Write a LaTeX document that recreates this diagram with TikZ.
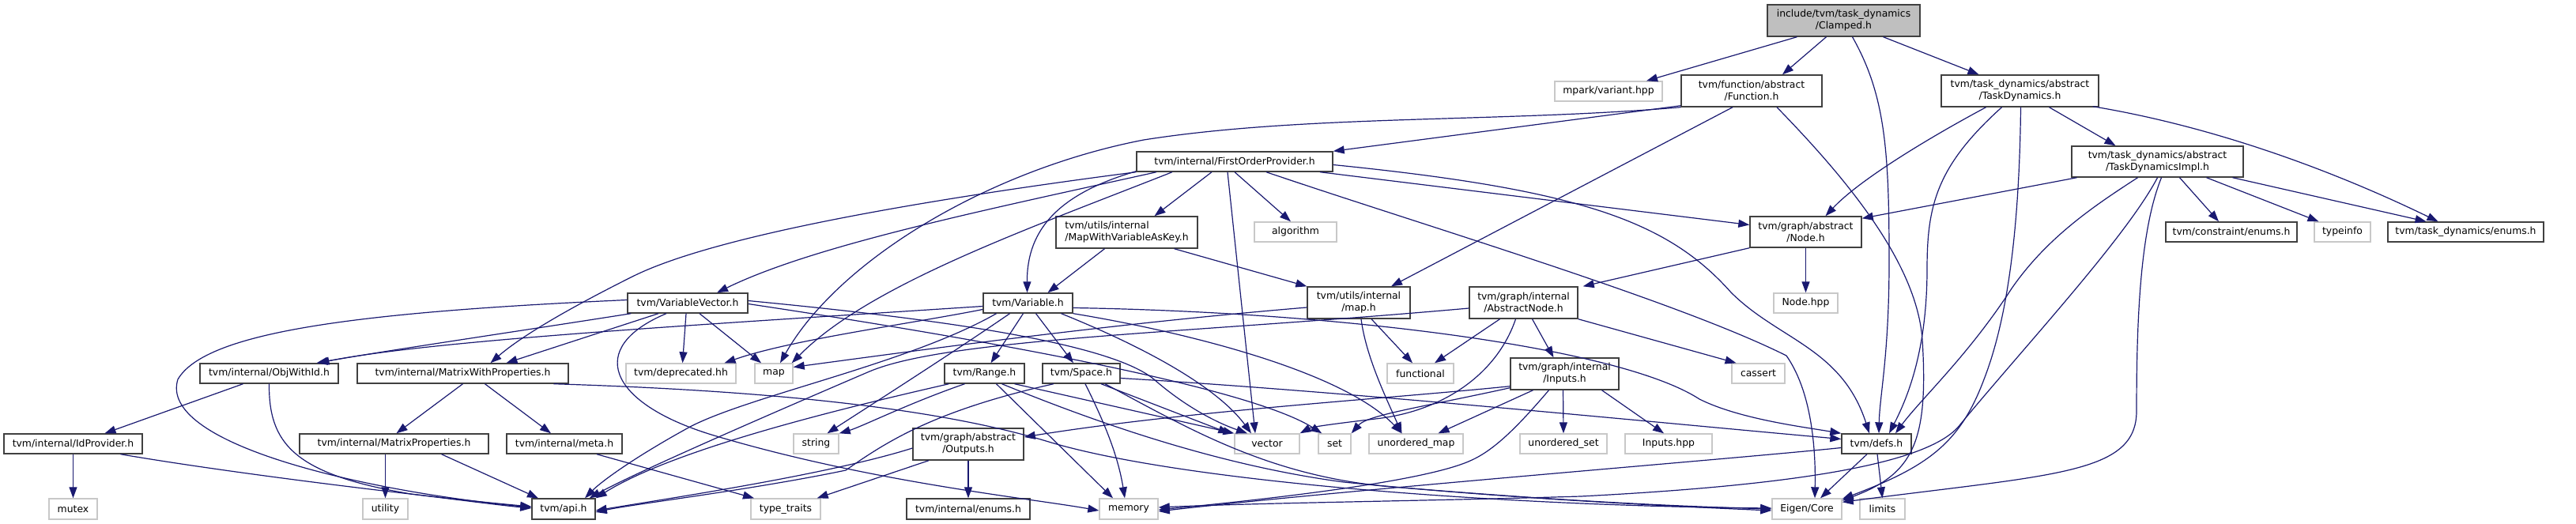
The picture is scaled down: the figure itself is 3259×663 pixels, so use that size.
\documentclass[tikz,border=0pt]{standalone}
\usepackage{fontspec}
\setmainfont{DejaVu Sans}
\usetikzlibrary{arrows.meta}
\definecolor{edgec}{HTML}{191970}
\definecolor{boxc}{HTML}{404040}
\definecolor{sysc}{HTML}{C8C8C8}
\definecolor{rootfill}{HTML}{BFBFBF}
\tikzset{
 hdr/.style={draw=boxc, line width=1.4pt, fill=white, inner sep=0pt, font=\fontsize{12.4}{15}\selectfont, align=center, minimum height=25pt},
 two/.style={minimum height=40pt},
 sys/.style={hdr, draw=sysc},
 root/.style={hdr, two, fill=rootfill},
 e/.style={draw=edgec, line width=1.2pt, -{Triangle[length=14pt,width=10pt]}},
}
\begin{document}
\begin{tikzpicture}[x=1pt,y=-1pt]
\useasboundingbox (0,0) rectangle (3259,663);
% row 0
\node[root, minimum width=193pt] (clamped) at (2332.5,26) {include/tvm/task\_dynamics\\/Clamped.h};
% row 1
\node[sys, minimum width=136pt] (variant) at (2035,115.5) {mpark/variant.hpp};
\node[hdr, two, minimum width=178pt] (function) at (2216,115) {tvm/function/abstract\\/Function.h};
\node[hdr, two, minimum width=199pt] (taskdyn) at (2555.5,115) {tvm/task\_dynamics/abstract\\/TaskDynamics.h};
% row 2
\node[hdr, minimum width=248pt] (fop) at (1562,204.5) {tvm/internal/FirstOrderProvider.h};
\node[hdr, two, minimum width=217pt, minimum height=39pt] (tdimpl) at (2729.5,204.5) {tvm/task\_dynamics/abstract\\/TaskDynamicsImpl.h};
% row 3
\node[hdr, two, minimum width=179pt, align=left] (mwvak) at (1425.5,294) {tvm/utils/internal\\/MapWithVariableAsKey.h};
\node[sys, minimum width=104pt] (algorithm) at (1639,293.5) {algorithm};
\node[hdr, two, minimum width=141pt, minimum height=39pt] (nodeh) at (2284.5,293.5) {tvm/graph/abstract\\/Node.h};
\node[hdr, minimum width=166pt] (cenums) at (2823,293.5) {tvm/constraint/enums.h};
\node[sys, minimum width=71pt] (typeinfo) at (2963.5,293.5) {typeinfo};
\node[hdr, minimum width=197pt] (tdenums) at (3119.5,293.5) {tvm/task\_dynamics/enums.h};
% row 4
\node[hdr, minimum width=152pt] (vv) at (870,383.5) {tvm/VariableVector.h};
\node[hdr, minimum width=113pt] (variable) at (1300.5,383.5) {tvm/Variable.h};
\node[hdr, two, minimum width=130pt] (utilsmap) at (1719,383) {tvm/utils/internal\\/map.h};
\node[hdr, two, minimum width=137pt] (absnode) at (1927.5,383) {tvm/graph/internal\\/AbstractNode.h};
\node[sys, minimum width=81pt] (nodehpp) at (2284.5,383.5) {Node.hpp};
% row 5
\node[hdr, minimum width=175pt] (objwithid) at (340.5,472.5) {tvm/internal/ObjWithId.h};
\node[hdr, minimum width=267pt] (mwp) at (585.5,472.5) {tvm/internal/MatrixWithProperties.h};
\node[sys, minimum width=139pt] (deprecated) at (861.5,472.5) {tvm/deprecated.hh};
\node[sys, minimum width=48pt] (map) at (979,472.5) {map};
\node[hdr, minimum width=101pt] (range) at (1245.5,472.5) {tvm/Range.h};
\node[hdr, minimum width=98pt] (space) at (1368,472.5) {tvm/Space.h};
\node[sys, minimum width=84pt] (functional) at (1797,472.5) {functional};
\node[hdr, two, minimum width=137pt] (inputs) at (1979.5,473) {tvm/graph/internal\\/Inputs.h};
\node[sys, minimum width=67pt] (cassert) at (2224.5,472.5) {cassert};
% row 6
\node[hdr, minimum width=175pt] (idprovider) at (92.5,561.5) {tvm/internal/IdProvider.h};
\node[hdr, minimum width=239pt] (mprops) at (498.5,561.5) {tvm/internal/MatrixProperties.h};
\node[hdr, minimum width=146pt] (meta) at (714,561.5) {tvm/internal/meta.h};
\node[sys, minimum width=57pt] (string) at (1032.5,561.5) {string};
\node[hdr, two, minimum width=140pt] (outputs) at (1225,562) {tvm/graph/abstract\\/Outputs.h};
\node[sys, minimum width=82pt] (vector) at (1603,561.5) {vector};
\node[sys, minimum width=41pt] (set) at (1688.5,561.5) {set};
\node[sys, minimum width=119pt] (umap) at (1791.5,561.5) {unordered\_map};
\node[sys, minimum width=110pt] (uset) at (1978,561.5) {unordered\_set};
\node[sys, minimum width=110pt] (inputshpp) at (2111,561.5) {Inputs.hpp};
\node[hdr, minimum width=88pt] (defs) at (2374,561.5) {tvm/defs.h};
% row 7
\node[sys, minimum width=61pt, minimum height=26pt] (mutex) at (92.5,644) {mutex};
\node[sys, minimum width=57pt, minimum height=26pt] (utility) at (487.5,644) {utility};
\node[hdr, minimum width=80pt, minimum height=26pt] (api) at (713,644) {tvm/api.h};
\node[sys, minimum width=88pt, minimum height=26pt] (typetraits) at (994,644) {type\_traits};
\node[hdr, minimum width=156pt, minimum height=26pt] (ienums) at (1225,644) {tvm/internal/enums.h};
\node[sys, minimum width=74pt, minimum height=26pt] (memory) at (1428,644) {memory};
\node[sys, minimum width=88pt, minimum height=26pt] (eigen) at (2286,644) {Eigen/Core};
\node[sys, minimum width=57pt, minimum height=26pt] (limits) at (2381.5,644) {limits};

% ---- edges ----
% Clamped
\draw[e] ([xshift=-59pt]clamped.south) -- ([xshift=48pt]variant.north);
\draw[e] ([xshift=-22pt]clamped.south) -- ([xshift=39pt]function.north);
\draw[e] ([xshift=11pt]clamped.south) .. controls (2385,120) and (2390,190) .. (2390,330) .. controls (2390,450) and (2378,500) .. ([xshift=3pt]defs.north);
\draw[e] ([xshift=50pt]clamped.south) -- ([xshift=-52pt]taskdyn.north);
% Function
\draw[e] ([yshift=2pt]function.south west) -- (fop.north east);
\draw[e] (function.south west) .. controls (1900,155) and (1650,145) .. (1447,177) .. controls (1250,215) and (1060,330) .. ([xshift=8pt]map.north);
\draw[e] ([xshift=-24pt]function.south) -- ([xshift=41pt]utilsmap.north);
\draw[e] ([xshift=32pt]function.south) .. controls (2330,220) and (2425,330) .. (2432,430) .. controls (2440,560) and (2420,600) .. ([yshift=-3pt]eigen.north east);
% TaskDynamics
\draw[e] ([xshift=-43pt]taskdyn.south) .. controls (2430,180) and (2350,230) .. ([xshift=25pt]nodeh.north);
\draw[e] ([xshift=-23pt]taskdyn.south) .. controls (2450,210) and (2438,260) .. (2438,340) .. controls (2438,440) and (2415,500) .. ([xshift=16pt]defs.north);
\draw[e] ([xshift=1pt]taskdyn.south) .. controls (2555,260) and (2545,390) .. (2510,480) .. controls (2480,560) and (2440,590) .. ([yshift=-1pt]eigen.north east);
\draw[e] ([xshift=37pt]taskdyn.south) -- ([xshift=-53pt]tdimpl.north);
\draw[e] ([xshift=-8pt,yshift=1pt]taskdyn.south east) .. controls (2800,160) and (2950,215) .. ([xshift=-35pt]tdenums.north);
% TaskDynamicsImpl
\draw[e] ([xshift=-102pt]tdimpl.south) -- ([yshift=-3pt]nodeh.north east);
\draw[e] ([xshift=-25pt]tdimpl.south) .. controls (2650,260) and (2590,300) .. (2545,365) .. controls (2490,450) and (2430,505) .. ([xshift=24pt]defs.north);
\draw[e] ([xshift=5pt]tdimpl.south) .. controls (2708,290) and (2703,400) .. (2703,520) .. controls (2703,600) and (2600,600) .. ([yshift=-5pt]eigen.north east);
\draw[e] (tdimpl.south) .. controls (2690,300) and (2560,440) .. (2480,537) .. controls (2440,590) and (2250,615) .. (2000,628) .. controls (1800,634) and (1600,636) .. ([yshift=2pt]memory.east);
\draw[e] ([xshift=28pt]tdimpl.south) -- ([xshift=-16pt]cenums.north);
\draw[e] ([xshift=62pt]tdimpl.south) -- ([xshift=-30pt]typeinfo.north);
\draw[e] ([xshift=95pt]tdimpl.south) -- ([xshift=-50pt]tdenums.north);
% FirstOrderProvider
\draw[e] ([xshift=-99pt]fop.south) .. controls (1250,265) and (1030,310) .. ([xshift=37pt]vv.north);
\draw[e] (fop.south west) .. controls (1150,255) and (900,300) .. (800,350) .. controls (720,390) and (660,425) .. ([xshift=35pt]mwp.north);
\draw[e] ([xshift=-79pt]fop.south) .. controls (1300,290) and (1100,360) .. ([xshift=-2pt]map.north east);
\draw[e] ([yshift=1pt]fop.south west) .. controls (1340,245) and (1299,290) .. ([xshift=-1pt]variable.north);
\draw[e] ([xshift=-29pt]fop.south) -- ([xshift=35pt]mwvak.north);
\draw[e] ([xshift=-9pt]fop.south) -- ([xshift=-15pt]vector.north);
\draw[e] (fop.south) -- ([xshift=-6pt]algorithm.north);
\draw[e] ([xshift=108pt]fop.south) -- ([yshift=9pt]nodeh.west);
\draw[e] ([yshift=-4pt]fop.east) .. controls (2000,240) and (2110,280) .. (2190,370) .. controls (2250,430) and (2330,440) .. ([xshift=-9pt]defs.north);
\draw[e] ([xshift=40pt]fop.south) .. controls (1800,285) and (2120,380) .. (2260,450) .. controls (2295,500) and (2297,580) .. ([xshift=10pt]eigen.north);
% MapWithVariableAsKey
\draw[e] ([xshift=-28pt]mwvak.south) -- ([xshift=25pt]variable.north);
\draw[e] ([xshift=60pt]mwvak.south) -- (utilsmap.north west);
% Node.h
\draw[e] (nodeh.south west) -- ([xshift=6pt]absnode.north east);
\draw[e] (nodeh) -- (nodehpp);
% utils/internal/map.h
\draw[e] ([xshift=16pt]utilsmap.south) -- ([xshift=-10pt]functional.north);
\draw[e] ([xshift=3pt]utilsmap.south) .. controls (1728,450) and (1752,500) .. ([xshift=-18pt]umap.north);
\draw[e] ([yshift=-6pt]utilsmap.west) .. controls (1400,410) and (1150,445) .. ([yshift=8pt]map.east);
% AbstractNode
\draw[e] ([xshift=-30pt]absnode.south) -- ([xshift=18pt]functional.north);
\draw[e] ([xshift=11pt]absnode.south) -- ([xshift=-14pt]inputs.north);
\draw[e] (absnode.south east) -- ([xshift=-28pt]cassert.north);
\draw[e] ([xshift=-10pt]absnode.south) .. controls (1895,470) and (1830,520) .. (1740,530) .. controls (1690,536) and (1660,540) .. (vector.north east);
\draw[e] ([yshift=-7pt]absnode.west) .. controls (1500,422) and (1200,428) .. (1100,470) .. controls (960,530) and (800,600) .. ([xshift=-8pt]api.north east);
% Inputs
\draw[e] ([yshift=5pt]inputs.south west) .. controls (1750,505) and (1500,520) .. ([yshift=9pt]outputs.east);
\draw[e] ([yshift=3pt]inputs.south west) .. controls (1800,515) and (1730,525) .. (set.north east);
\draw[e] ([xshift=-40pt]inputs.south) -- ([xshift=28pt]umap.north);
\draw[e] ([xshift=-2pt]inputs.south) -- (uset.north);
\draw[e] ([xshift=47pt]inputs.south) -- ([xshift=-6pt]inputshpp.north);
\draw[e] ([xshift=-20pt]inputs.south) .. controls (1920,540) and (1890,570) .. (1860,583) .. controls (1800,610) and (1600,632) .. ([yshift=-1pt]memory.east);
% Outputs
\draw[e] ([yshift=-5pt]outputs.west) .. controls (1050,600) and (850,630) .. ([yshift=-2pt]api.east);
\draw[e] (outputs) -- (ienums);
\draw[e] ([xshift=-50pt]outputs.south) -- ([xshift=-5pt]typetraits.north east);
% VariableVector
\draw[e] ([xshift=5pt]vv.south west) .. controls (650,420) and (480,445) .. ([xshift=60pt]objwithid.north);
\draw[e] ([xshift=-37pt]vv.south) -- ([xshift=55pt]mwp.north);
\draw[e] ([xshift=-2pt]vv.south) -- ([xshift=2pt]deprecated.north);
\draw[e] ([xshift=15pt]vv.south) -- ([xshift=-16pt]map.north);
\draw[e] ([yshift=4pt]vv.west) .. controls (450,395) and (260,420) .. (225,480) .. controls (200,560) and (450,620) .. ([yshift=2pt]api.west);
\draw[e] ([xshift=-27pt]vv.south) .. controls (740,440) and (770,510) .. (900,550) .. controls (1100,610) and (1300,630) .. ([yshift=-2pt]memory.west);
\draw[e] ([yshift=3pt]vv.east) .. controls (1150,400) and (1400,430) .. (1460,480) .. controls (1500,515) and (1540,535) .. ([xshift=-25pt]vector.north);
\draw[e] ([yshift=-1pt]vv.east) .. controls (1250,430) and (1580,490) .. ([xshift=5pt]set.north west);
% Variable
\draw[e] ([yshift=-4pt]variable.west) .. controls (900,410) and (550,430) .. ([xshift=62pt]objwithid.north);
\draw[e] ([yshift=-8pt]variable.west) .. controls (1150,410) and (1000,430) .. ([xshift=55pt]deprecated.north);
\draw[e] ([xshift=-40pt]variable.south) .. controls (1150,460) and (950,500) .. (873,540) .. controls (800,580) and (760,610) .. ([xshift=27pt]api.north);
\draw[e] ([xshift=-23pt]variable.south) .. controls (1200,450) and (1090,520) .. ([xshift=14pt]string.north);
\draw[e] ([xshift=-6pt]variable.south) -- ([xshift=8pt]range.north);
\draw[e] ([xshift=10pt]variable.south) -- ([xshift=-10pt]space.north);
\draw[e] ([xshift=42pt]variable.south) .. controls (1450,440) and (1540,490) .. ([xshift=-20pt]vector.north);
\draw[e] ([yshift=-6pt]variable.east) .. controls (1700,395) and (2050,440) .. (2150,505) .. controls (2200,530) and (2280,540) .. (defs.north west);
\draw[e] (variable.south east) .. controls (1500,420) and (1700,470) .. ([xshift=-18pt]umap.north);
% Range
\draw[e] ([xshift=-45pt]range.south) .. controls (1050,520) and (850,570) .. (api.north east);
\draw[e] ([xshift=-25pt]range.south) .. controls (1150,510) and (1090,540) .. (string.north east);
\draw[e] ([xshift=15pt]range.south) -- ([xshift=-20pt]memory.north);
\draw[e] ([xshift=38pt]range.south) -- (vector.north west);
\draw[e] ([xshift=22pt]range.south) .. controls (1400,540) and (1550,590) .. (1700,610) .. controls (1900,630) and (2100,640) .. ([yshift=-2pt]eigen.west);
% Space
\draw[e] ([xshift=-35pt]space.south) .. controls (1180,520) and (1120,560) .. (1070,595) .. controls (950,620) and (800,638) .. ([yshift=-4pt]api.east);
\draw[e] ([xshift=5pt]space.south) .. controls (1400,540) and (1415,580) .. ([xshift=-5pt]memory.north);
\draw[e] ([xshift=25pt]space.south) -- ([xshift=-6pt]vector.north west);
\draw[e] ([xshift=30pt]space.south) .. controls (1500,540) and (1600,600) .. (1750,615) .. controls (1950,632) and (2100,640) .. (eigen.west);
\draw[e] ([yshift=-6pt]space.east) .. controls (1700,495) and (2100,535) .. ([yshift=6pt]defs.west);
% MatrixWithProperties
\draw[e] (mwp.south) -- ([xshift=3pt]mprops.north);
\draw[e] ([xshift=28pt]mwp.south) -- ([xshift=-17pt]meta.north);
\draw[e] ([xshift=115pt]mwp.south) .. controls (1000,495) and (1200,520) .. (1330,560) .. controls (1500,610) and (1900,640) .. ([yshift=1pt]eigen.west);
% MatrixProperties, meta
\draw[e] ([xshift=-11pt]mprops.south) -- (utility.north);
\draw[e] ([xshift=60pt]mprops.south) -- ([xshift=-32pt]api.north);
\draw[e] ([xshift=41pt]meta.south) -- ([xshift=-40pt]typetraits.north);
% ObjWithId, IdProvider
\draw[e] ([xshift=-33pt]objwithid.south) -- ([xshift=40pt]idprovider.north);
\draw[e] (objwithid.south) .. controls (340,560) and (370,600) .. (520,625) .. controls (600,635) and (640,640) .. ([yshift=1pt]api.west);
\draw[e] (idprovider) -- (mutex);
\draw[e] ([xshift=60pt]idprovider.south) .. controls (300,600) and (550,630) .. ([yshift=3pt]api.west);
% defs
\draw[e] ([xshift=-12pt]defs.south) -- ([xshift=17pt]eigen.north);
\draw[e] ([xshift=1pt]defs.south) -- (limits.north);
\draw[e] ([yshift=-5pt]defs.west) .. controls (2200,580) and (1700,620) .. ([yshift=-3pt]memory.east);
\end{tikzpicture}
\end{document}
